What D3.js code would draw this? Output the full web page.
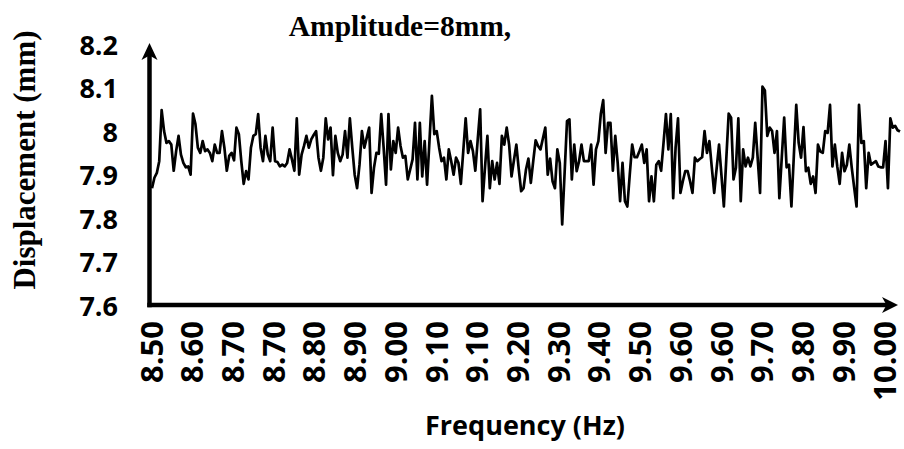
<!DOCTYPE html>
<html>
<head>
<meta charset="utf-8">
<script src="https://cdn.jsdelivr.net/npm/d3@7"></script>
<style>
  body { margin: 0; background: #fff; }
  svg { display: block; }
  .tickLabel { font-family: "Open Sans", sans-serif; font-weight: bold; fill: #000; }
  .serifTitle { font-family: "Liberation Serif", "Times New Roman", serif; font-weight: bold; fill: #000; }
</style>
</head>
<body>
<div id="chart"></div>
<script>
// ##################################
// Data
// ##################################

const chartTitle = "Amplitude=8mm,";
const xTitle = "Frequency (Hz)";
const yTitle = "Displacement (mm)";

// category labels shown under the x axis (as printed, duplicates included)
const freqLabels = ["8.50", "8.60", "8.70", "8.70", "8.80", "8.90", "9.00", "9.10", "9.10", "9.20",
                    "9.30", "9.40", "9.50", "9.60", "9.60", "9.70", "9.80", "9.90", "10.00"];

const yTicks = [7.6, 7.7, 7.8, 7.9, 8.0, 8.1, 8.2];

const displacement = [
  // 8.50 - 8.85
  7.868, 7.892, 7.903, 7.930, 8.047, 7.999, 7.972, 7.976, 7.968, 7.908,
  7.953, 7.988, 7.945, 7.926, 7.916, 7.918, 7.899, 8.039, 8.015, 7.961,
  7.949, 7.976, 7.953, 7.957, 7.949, 7.930, 7.968, 7.949, 7.949, 7.999,
  7.961, 7.908, 7.942, 7.949, 7.932, 8.007, 7.992, 7.930, 7.878, 7.907,
  7.888, 7.961, 7.988, 7.992, 8.038, 7.961, 7.930, 7.988, 7.945, 7.930,
  8.007, 7.930, 7.928, 7.918, 7.922, 7.918, 7.926, 7.957, 7.934, 7.908,
  8.028, 7.899,
  // 8.85 - 9.20
  7.945, 7.965, 7.988, 7.961, 7.980, 7.990, 7.999, 7.938, 7.908, 7.938,
  8.028, 7.980, 8.007, 7.898, 7.988, 7.949, 7.930, 7.945, 7.999, 7.938,
  8.028, 7.961, 7.899, 7.868, 7.922, 7.999, 7.961, 7.984, 8.007, 7.857,
  7.915, 7.949, 7.947, 8.038, 7.961, 7.876, 8.038, 7.911, 7.976, 7.949,
  8.007, 7.965, 7.938, 7.942, 7.888, 7.911, 7.934, 8.018, 7.888, 8.018,
  7.895, 7.976, 7.876, 7.977, 8.080, 7.992, 7.999, 7.961, 7.930, 7.938,
  7.888, 7.957,
  // 9.20 - 9.55
  7.930, 7.899, 7.938, 7.926, 7.878, 7.953, 8.028, 7.949, 7.976, 7.953,
  7.908, 7.980, 8.049, 7.838, 7.915, 7.988, 7.868, 7.930, 7.888, 7.926,
  7.878, 7.988, 7.968, 8.007, 7.968, 7.895, 7.932, 7.968, 7.911, 7.861,
  7.868, 7.911, 7.936, 7.880, 7.930, 7.978, 7.965, 7.957, 7.982, 8.007,
  7.899, 7.936, 7.884, 7.868, 7.957, 7.926, 7.785, 7.903, 8.022, 8.026,
  7.888, 7.968, 7.907, 7.930, 7.968, 7.930, 7.930, 7.930, 7.968, 7.876,
  7.957,
  // 9.55 - 9.90
  7.976, 8.038, 8.070, 7.949, 8.018, 8.018, 7.908, 7.988, 7.926, 7.838,
  7.926, 7.838, 7.826, 7.899, 7.968, 7.939, 7.939, 7.953, 7.968, 7.926,
  7.957, 7.838, 7.895, 7.838, 7.922, 7.930, 7.908, 7.972, 8.038, 7.957,
  8.038, 7.845, 7.961, 8.028, 7.857, 7.884, 7.907, 7.907, 7.884, 7.857,
  7.938, 7.930, 7.935, 7.939, 7.999, 7.949, 7.976, 7.916, 7.857, 7.913,
  7.968, 7.898, 7.826, 7.934, 8.039, 8.030, 7.888, 7.915, 8.028, 7.838,
  7.957,
  // 9.90 - 10.05
  7.918, 7.938, 7.918, 7.938, 8.018, 7.938, 7.857, 8.101, 8.092, 7.988,
  8.007, 7.999, 7.949, 7.999, 7.845, 7.938, 8.030, 7.916, 7.922, 7.826,
  7.942, 8.059, 7.972, 7.938, 8.008, 7.907, 7.915, 7.878, 7.895, 7.857,
  7.968, 7.952, 7.949, 7.999, 7.995, 8.059, 7.918, 7.968, 7.918, 7.878,
  7.949, 7.907, 7.922, 7.968, 7.915, 7.870, 7.826, 8.059, 7.972, 7.976,
  7.868, 7.949, 7.922, 7.926, 7.930, 7.918, 7.916, 7.916, 7.976, 7.868,
  8.028, 8.007, 8.011, 8.001, 7.998
];


// ##################################
// Svg setup
// ##################################

const w = 904;
const h = 449;

const svg = d3.select("#chart")
  .append("svg")
  .attr("width", w)
  .attr("height", h);

const axisX = 149.5;     // position of the vertical axis line
const lineLeft = 152;
const lineRight = 900;
const arrowRight = 898;


// Scales
const xScale = d3.scaleLinear()
  .domain([0, displacement.length - 1])
  .range([lineLeft, lineRight]);

// label slots under the axis
const xLabelScale = d3.scalePoint()
  .domain(d3.range(freqLabels.length))
  .range([150, 883]);

const yScale = d3.scaleLinear()
  .domain([7.6, 8.2])
  .range([305, 43.5]);


// ##################################
// Axes
// ##################################

// y tick labels
const yAxis = d3.axisLeft(yScale)
  .tickValues(yTicks)
  .tickSize(0)
  .tickPadding(0)
  .tickFormat(d => String(+d.toFixed(1)));

const gy = svg.append("g")
  .attr("transform", "translate(118,0)")
  .call(yAxis);
gy.select(".domain").remove();
gy.selectAll("text")
  .attr("class", "tickLabel")
  .attr("x", 0)
  .attr("dy", null)
  .attr("dominant-baseline", "central")
  .style("font-size", "27px");

// x tick labels, rotated
const xAxis = d3.axisBottom(xLabelScale)
  .tickSize(0)
  .tickFormat(i => freqLabels[i]);

const gx = svg.append("g")
  .call(xAxis);
gx.select(".domain").remove();
gx.selectAll("text")
  .attr("class", "tickLabel")
  .attr("y", 0)
  .attr("dy", null)
  .attr("transform", "translate(0,321) rotate(-90)")
  .attr("text-anchor", "end")
  .attr("dominant-baseline", "central")
  .style("font-size", "31px");

// axis lines with arrow heads
const yBottom = yScale(7.6);
const yTop = yScale(8.2) - 0.5;

svg.append("line")
  .attr("x1", axisX).attr("x2", axisX)
  .attr("y1", yBottom + 2.2).attr("y2", yTop + 12)
  .attr("stroke", "#000")
  .attr("stroke-width", 4.5);

svg.append("line")
  .attr("x1", axisX - 2.2).attr("x2", arrowRight - 10)
  .attr("y1", yBottom).attr("y2", yBottom)
  .attr("stroke", "#000")
  .attr("stroke-width", 4.5);

svg.append("path")
  .attr("d", `M${axisX},${yTop} L${axisX + 8},${yTop + 17} L${axisX},${yTop + 12.5} L${axisX - 8},${yTop + 17} Z`)
  .attr("fill", "#000");

svg.append("path")
  .attr("d", `M${arrowRight},${yBottom} L${arrowRight - 16},${yBottom - 8} L${arrowRight - 11.5},${yBottom} L${arrowRight - 16},${yBottom + 8} Z`)
  .attr("fill", "#000");


// ##################################
// Line
// ##################################

const line = d3.line()
  .x((d, i) => xScale(i))
  .y(d => yScale(d));

svg.append("path")
  .datum(displacement)
  .attr("fill", "none")
  .attr("stroke", "#000")
  .attr("stroke-width", 2.7)
  .attr("stroke-linejoin", "round")
  .attr("d", line);


// ##################################
// Titles
// ##################################

svg.append("text")
  .attr("class", "serifTitle")
  .attr("x", 400)
  .attr("y", 36)
  .attr("text-anchor", "middle")
  .style("font-size", "29.5px")
  .text(chartTitle);

svg.append("text")
  .attr("class", "serifTitle")
  .attr("transform", "translate(35,160) rotate(-90)")
  .attr("text-anchor", "middle")
  .style("font-size", "31px")
  .text(yTitle);

svg.append("text")
  .attr("class", "tickLabel")
  .attr("x", 525)
  .attr("y", 435)
  .attr("text-anchor", "middle")
  .style("font-size", "27px")
  .text(xTitle);
</script>
</body>
</html>
